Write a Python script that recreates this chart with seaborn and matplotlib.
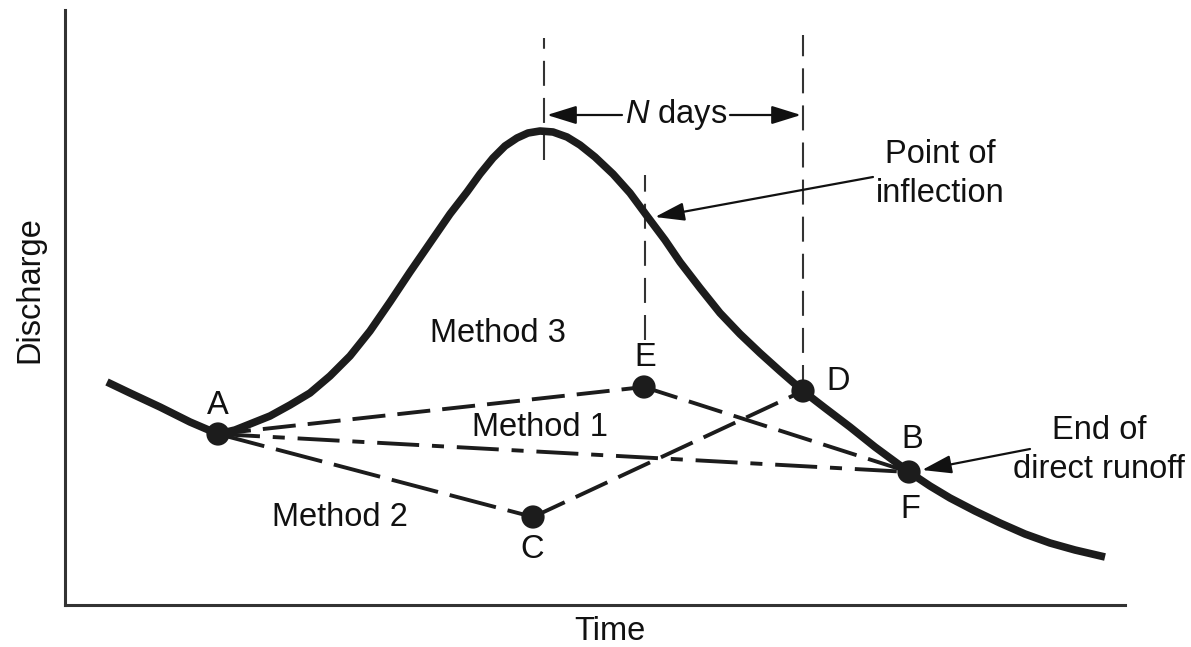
import numpy as np
import pandas as pd
import matplotlib
matplotlib.use("Agg")
import matplotlib.pyplot as plt
import seaborn as sns

# hydrograph (time, discharge in arbitrary units)
curve_time = [107, 130, 160, 190, 218, 235, 250, 270, 290, 310, 330, 350, 370,
              390, 410, 430, 450, 467, 480, 493, 505, 517, 528, 540, 553, 567,
              580, 595, 613, 630, 647, 665, 680, 700, 720, 740, 760, 780, 803,
              825, 850, 875, 909, 930, 950, 975, 1000, 1025, 1050, 1075, 1105]
curve_q = [265, 254, 240, 225, 213, 217, 223, 231, 242, 254, 271, 291, 316,
           345, 375, 404, 433, 455, 473, 489, 501, 509, 514, 516, 515, 510,
           502, 490, 473, 454, 431, 407, 385, 359, 334, 313, 294, 276, 256,
           239, 220, 200, 175, 161, 149, 136, 124, 113, 104, 97, 90]

# key points
pt_names = ["A", "C", "E", "D", "B"]
pt_time = [218, 533, 644, 803, 909]
pt_q = [213, 130, 260, 256, 175]

# separation lines (segment, start point, end point)
seg_names = ["A-E", "E-B", "A-B", "A-C", "C-D"]
seg_from = ["A", "E", "A", "A", "C"]
seg_to = ["E", "B", "B", "C", "D"]
seg_dashes = {"A-E": (8.5, 3.1), "E-B": (9, 3.1), "A-B": (10.8, 3.3, 3.1, 3.3),
              "A-C": (12.3, 3.1), "C-D": (9, 3.1)}

# vertical guide lines: time, bottom, top
guide_time = [544, 645, 803]
guide_low = [487, 307, 257]
guide_high = [609, 472, 612]

# label texts and their positions
label_text = ["A", "E", "D", "B", "F", "C", "Method 3", "Method 1", "Method 2"]
label_time = [218, 645, 838, 912, 910, 532, 498, 540, 340]
label_q = [242, 289, 266, 207, 137, 97, 313, 220, 130]

sns.set_theme(style="white")
plt.rcParams["font.family"] = ["Liberation Sans", "DejaVu Sans"]
plt.rcParams["mathtext.fontset"] = "custom"
plt.rcParams["mathtext.it"] = "Liberation Sans:italic"
plt.rcParams["mathtext.rm"] = "Liberation Sans"

ink = "#1c1c1c"
fs = 23.5

fig = plt.figure(figsize=(11.91, 6.47), dpi=100)
ax = fig.add_axes([65 / 1191, 42 / 647, 1060 / 1191, 595 / 647])
ax.set_xlim(65, 1125)
ax.set_ylim(42, 637)

# main hydrograph
curve = pd.DataFrame({"time": curve_time, "q": curve_q})
sns.lineplot(data=curve, x="time", y="q", sort=False, estimator=None,
             color=ink, lw=5.5, solid_capstyle="butt", solid_joinstyle="round",
             ax=ax, zorder=3)

# separation methods
lookup = dict(zip(pt_names, zip(pt_time, pt_q)))
rows = []
for name, a, b in zip(seg_names, seg_from, seg_to):
    for p in (a, b):
        rows.append({"seg": name, "time": lookup[p][0], "q": lookup[p][1]})
segs = pd.DataFrame(rows)
sns.lineplot(data=segs, x="time", y="q", style="seg", dashes=seg_dashes,
             units="seg", estimator=None, sort=False, color=ink, lw=2.8,
             legend=False, ax=ax, zorder=2)

# vertical guides
for t, lo, hi in zip(guide_time, guide_low, guide_high):
    ax.plot([t, t], [lo, hi], color="#333333", lw=1.5,
            linestyle=(0, (12, 5.8)), zorder=1)

# points
pts = pd.DataFrame({"time": pt_time, "q": pt_q})
sns.scatterplot(data=pts, x="time", y="q", s=280, color=ink,
                edgecolor="none", ax=ax, zorder=5)

for txt, t, q in zip(label_text, label_time, label_q):
    ax.text(t, q, txt, fontsize=fs, ha="center", va="center", color="#111111")

# N days arrow
arr = dict(arrowstyle="-|>,head_length=0.9,head_width=0.28", color="#111111",
           lw=1.6, mutation_scale=20, shrinkA=0, shrinkB=0)
ax.annotate("", xy=(547, 532), xytext=(622, 532), arrowprops=arr)
ax.annotate("", xy=(801, 532), xytext=(730, 532), arrowprops=arr)
ax.text(676, 532, "$\\mathit{N}$ days", fontsize=fs, ha="center",
        va="center", color="#111111")

# callouts
ax.annotate("", xy=(655, 430), xytext=(873, 470), arrowprops=arr)
ax.text(940, 473, "Point of\ninflection", fontsize=fs, ha="center",
        va="center", linespacing=1.35, color="#111111")
ax.annotate("", xy=(922, 177), xytext=(1030, 198), arrowprops=arr)
ax.text(1099, 197, "End of\ndirect runoff", fontsize=fs, ha="center",
        va="center", linespacing=1.3, color="#111111")

ax.set_xticks([])
ax.set_yticks([])
ax.set_xlabel("Time", fontsize=fs, color="#111111")
ax.set_ylabel("Discharge", fontsize=fs, color="#111111")
ax.xaxis.label.set_va("center")
ax.yaxis.label.set_va("center")
ax.xaxis.set_label_coords((610 - 65) / 1060, (605 - 632) / 595)
ax.yaxis.set_label_coords((30 - 65) / 1060, (605 - 290) / 595)

sns.despine(ax=ax)
for side in ("left", "bottom"):
    ax.spines[side].set_linewidth(2.2)
    ax.spines[side].set_color("#333333")

fig.savefig("out.png", dpi=100)
